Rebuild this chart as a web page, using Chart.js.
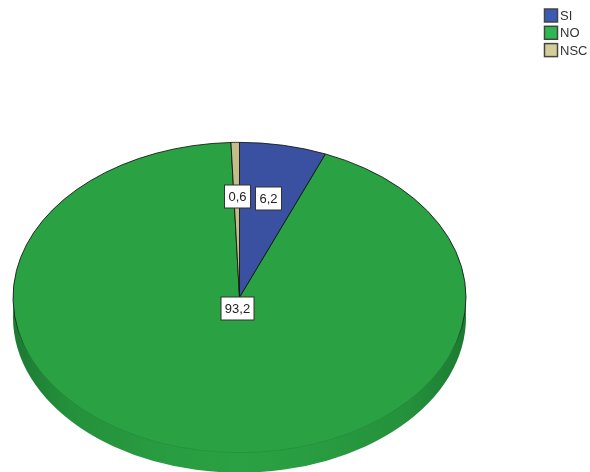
<!DOCTYPE html>
<html>
<head>
<meta charset="utf-8">
<script src="https://cdn.jsdelivr.net/npm/chart.js@4"></script>
<style>
html, body { margin: 0; padding: 0; background: #fff; }
#wrap { width: 590px; height: 472px; overflow: hidden; }
</style>
</head>
<body>
<div id="wrap"><canvas id="chart" width="590" height="472"></canvas></div>
<script>
const categories = ['SI', 'NO', 'NSC'];
const values = [6.2, 93.2, 0.6];
const valueLabels = ['6,2', '93,2', '0,6'];

const sliceColors = ['#3a50a0', '#2aa143', '#c4bd8b'];
const legendColors = ['#3b5ab4', '#2eb84f', '#d3ce98'];

// tilt of the fake 3D pie
const centerX = 239.5;
const centerY = 297.5;
const radius = 226.5;
const tilt = 0.685;
const depth = 20;

function tiltTransform(ctx, arc) {
    ctx.translate(centerX - arc.x, centerY - arc.y * tilt);
    ctx.scale(1, tilt);
}

const tiltedPie = {
    id: 'tiltedPie',
    beforeDatasetDraw(chart) {
        const ctx = chart.ctx;
        const arcs = chart.getDatasetMeta(0).data;
        ctx.save();
        tiltTransform(ctx, arcs[0]);

        // side wall, darker towards the edges
        const side = ctx.createLinearGradient(arcs[0].x - radius, 0, arcs[0].x + radius, 0);
        side.addColorStop(0, '#1c7a32');
        side.addColorStop(0.12, '#24903b');
        side.addColorStop(0.35, '#299d41');
        side.addColorStop(0.5, '#2aa143');
        side.addColorStop(0.65, '#299d41');
        side.addColorStop(0.88, '#24903b');
        side.addColorStop(1, '#1c7a32');
        ctx.fillStyle = side;
        arcs.forEach(arc => {
            ctx.beginPath();
            ctx.moveTo(arc.x, arc.y + depth / tilt);
            ctx.arc(arc.x, arc.y + depth / tilt, arc.outerRadius, arc.startAngle, arc.endAngle);
            ctx.closePath();
            ctx.fill();
        });
    },
    afterDatasetDraw(chart) {
        chart.ctx.restore();
    },
    afterDraw(chart) {
        const ctx = chart.ctx;
        ctx.save();

        // value labels
        ctx.font = '13px "Liberation Sans", Arial, sans-serif';
        ctx.textAlign = 'center';
        ctx.textBaseline = 'middle';
        chart.getDatasetMeta(0).data.forEach((arc, i) => {
            const mid = (arc.startAngle + arc.endAngle) / 2;
            // the big slice keeps its label near the centre
            const frac = arc.endAngle - arc.startAngle > Math.PI ? 0.065 : 0.66;
            const x = Math.round(centerX + Math.cos(mid) * arc.outerRadius * frac) + 0.5;
            const y = Math.round(centerY + Math.sin(mid) * arc.outerRadius * frac * tilt + 1) + 0.5;
            const w = Math.round(ctx.measureText(valueLabels[i]).width + 8);
            const h = 23;
            ctx.fillStyle = '#fff';
            ctx.fillRect(x - w / 2, y - h / 2, w, h);
            ctx.strokeStyle = '#333';
            ctx.lineWidth = 1;
            ctx.strokeRect(x - w / 2, y - h / 2, w, h);
            ctx.fillStyle = '#222';
            ctx.fillText(valueLabels[i], x, y + 0.5);
        });

        // legend, box and text sit closer together than the built-in one allows
        ctx.textAlign = 'left';
        ctx.font = '13px "Liberation Sans", Arial, sans-serif';
        categories.forEach((name, i) => {
            const y = 9 + i * 17.3;
            ctx.fillStyle = legendColors[i];
            ctx.fillRect(544.5, y, 13, 13);
            ctx.strokeStyle = '#444';
            ctx.lineWidth = 1.5;
            ctx.strokeRect(544.5, y, 13, 13);
            ctx.fillStyle = '#333';
            ctx.fillText(name, 560, y + 7.5);
        });
        ctx.restore();
    }
};

new Chart(document.getElementById('chart'), {
    type: 'pie',
    data: {
        labels: categories,
        datasets: [{
            data: values,
            backgroundColor: sliceColors,
            // outline fades out along the front of the pie
            borderColor(c) {
                const area = c.chart.chartArea;
                if (!area) return '#111';
                const cy = (area.top + area.bottom) / 2;
                const g = c.chart.ctx.createLinearGradient(0, cy - radius, 0, cy + radius);
                g.addColorStop(0, '#111');
                g.addColorStop(0.55, '#111');
                g.addColorStop(0.68, '#1f7f37');
                g.addColorStop(1, '#24913c');
                return g;
            },
            borderWidth: 1,
            radius: radius,
            clip: false
        }]
    },
    options: {
        responsive: false,
        animation: false,
        plugins: {
            tooltip: { enabled: false },
            title: { display: false },
            legend: { display: false }
        }
    },
    plugins: [tiltedPie]
});
</script>
</body>
</html>
